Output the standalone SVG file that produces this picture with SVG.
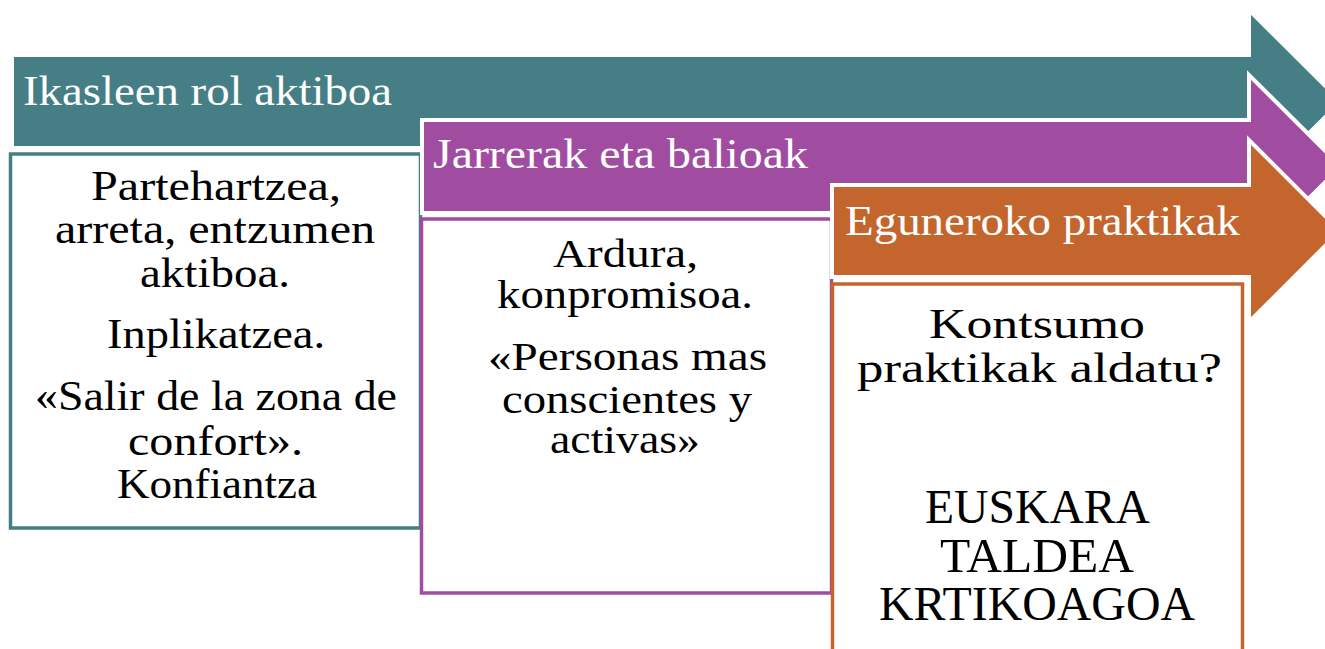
<svg xmlns="http://www.w3.org/2000/svg" width="1325" height="649" viewBox="0 0 1325 649">
<style>
.hd{font-family:"Liberation Serif","DejaVu Serif",serif;font-size:42px;fill:#ffffff}
.bd{font-family:"Liberation Serif","DejaVu Serif",serif;font-size:42px;fill:#000000}
.bp{font-family:"Liberation Serif","DejaVu Serif",serif;font-size:39px;fill:#000000}
.bo{font-family:"Liberation Serif","DejaVu Serif",serif;font-size:48px;fill:#000000}
.bk{font-family:"Liberation Serif","DejaVu Serif",serif;font-size:43px;fill:#000000}
.arrow{stroke:#ffffff;stroke-width:4;stroke-linejoin:miter}
.box{fill:#ffffff;stroke-width:3.5}
</style>
<rect width="1325" height="649" fill="#ffffff"/>
<g id="stage1">
  <path class="arrow" fill="#457E84" d="M12,55 H1249 V10 L1341,101.5 L1249,193 V148 H12 Z"/>
  <text class="hd" x="23" y="105" textLength="369" lengthAdjust="spacingAndGlyphs">Ikasleen rol aktiboa</text>
  <rect class="box" stroke="#457E84" x="10.5" y="154" width="410" height="374"/>
  <text class="bd" x="91" y="200" textLength="250" lengthAdjust="spacingAndGlyphs">Partehartzea,</text>
  <text class="bd" x="55" y="243" textLength="320" lengthAdjust="spacingAndGlyphs">arreta, entzumen</text>
  <text class="bd" x="140" y="287" textLength="150" lengthAdjust="spacingAndGlyphs">aktiboa.</text>
  <text class="bd" x="107" y="348" textLength="218" lengthAdjust="spacingAndGlyphs">Inplikatzea.</text>
  <text class="bd" x="35" y="410" textLength="362" lengthAdjust="spacingAndGlyphs">«Salir de la zona de</text>
  <text class="bd" x="128" y="455" textLength="175" lengthAdjust="spacingAndGlyphs">confort».</text>
  <text class="bd" x="117" y="498" textLength="200" lengthAdjust="spacingAndGlyphs">Konfiantza</text>
</g>
<g id="stage2">
  <path class="arrow" fill="#A04DA1" d="M422,120 H1249 V75 L1341,166.5 L1249,258 V213 H422 Z"/>
  <text class="hd" x="433" y="168" textLength="375" lengthAdjust="spacingAndGlyphs">Jarrerak eta balioak</text>
  <rect class="box" stroke="#A04DA1" x="421.5" y="219" width="410" height="374"/>
  <text class="bp" x="553" y="267" textLength="145" lengthAdjust="spacingAndGlyphs">Ardura,</text>
  <text class="bp" x="497" y="308" textLength="256" lengthAdjust="spacingAndGlyphs">konpromisoa.</text>
  <text class="bp" x="488" y="370" textLength="279" lengthAdjust="spacingAndGlyphs">«Personas mas</text>
  <text class="bp" x="502" y="413" textLength="250" lengthAdjust="spacingAndGlyphs">conscientes y</text>
  <text class="bp" x="550" y="453" textLength="150" lengthAdjust="spacingAndGlyphs">activas»</text>
</g>
<g id="stage3">
  <path class="arrow" fill="#C4652E" d="M832,185 H1249 V140 L1340,231 L1249,322 V277 H832 Z"/>
  <text class="hd" x="845" y="235" textLength="395" lengthAdjust="spacingAndGlyphs">Eguneroko praktikak</text>
  <rect class="box" stroke="#C4652E" x="832.5" y="284" width="410" height="380"/>
  <text class="bk" x="929" y="338" textLength="216" lengthAdjust="spacingAndGlyphs">Kontsumo</text>
  <text class="bk" x="857" y="382" textLength="365" lengthAdjust="spacingAndGlyphs">praktikak aldatu?</text>
  <text class="bo" x="925" y="523" textLength="225" lengthAdjust="spacingAndGlyphs">EUSKARA</text>
  <text class="bo" x="940" y="572" textLength="194" lengthAdjust="spacingAndGlyphs">TALDEA</text>
  <text class="bo" x="879" y="620" textLength="316" lengthAdjust="spacingAndGlyphs">KRTIKOAGOA</text>
</g>
<g id="connectors"></g>
</svg>
